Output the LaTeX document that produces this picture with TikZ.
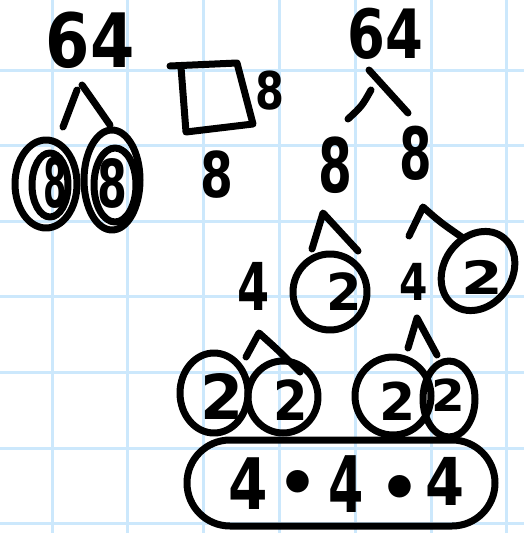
\documentclass[tikz,border=0pt]{standalone}
\usepackage{fontspec}
\setmainfont{DejaVu Sans}
\definecolor{gridblue}{RGB}{204,232,252}
\newcommand\fsz[1]{\fontsize{#1pt}{#1pt}\selectfont\bfseries}
\begin{document}
\begin{tikzpicture}[x=1pt,y=-1pt,
  ink/.style={line width=7pt,line cap=round,line join=round},
  dg/.style={inner sep=0pt,outer sep=0pt},
  gridline/.style={gridblue,line width=3pt}]
\useasboundingbox (0,0) rectangle (524,533);
\fill[white] (0,0) rectangle (524,533);
\foreach \i in {0,...,6}{
  \draw[gridline] ({52+75.8*\i},0) -- ({52+75.8*\i},533);
  \draw[gridline] (0,{70+75.6*\i}) -- (524,{70+75.6*\i});
}
% --- left tree ---
\node[dg,font=\fsz{75},xscale=0.85] (t1) at (90,40) {64};
\draw[ink] (63,127) -- (77,90);
\draw[ink] (82,85) .. controls (94,102) .. (110,125);
\draw[ink] (46,184) ellipse [x radius=31,y radius=44];
\draw[ink] (50,185) ellipse [x radius=18,y radius=32];
\draw[ink] (112,180) ellipse [x radius=28,y radius=50];
\draw[ink] (115,185) ellipse [x radius=21,y radius=37];
\node[dg,font=\fsz{68},xscale=0.5] (l1) at (55,183) {8};
\node[dg,font=\fsz{66},xscale=0.65] (l2) at (112,183) {8};
% --- square ---
\draw[ink] (170,66) -- (237,63) -- (253,124) -- (186,132) -- (181,67);
\node[dg,font=\fsz{52},xscale=0.8] (s1) at (270,91) {8};
\node[dg,font=\fsz{63},xscale=0.75] (s2) at (217,175) {8};
% --- right tree ---
\node[dg,font=\fsz{68},xscale=0.8] (t2) at (385,34) {64};
\draw[ink] (369,70) -- (408,113);
\draw[ink] (371,90) .. controls (362,106) .. (348,119);
\node[dg,font=\fsz{75},xscale=0.65] (r1) at (335,165) {8};
\node[dg,font=\fsz{72},xscale=0.65] (r2) at (416,153) {8};
\draw[ink] (312,249) -- (323,213) -- (358,251);
\draw[ink] (409,236) -- (423,207) .. controls (440,222) .. (463,238);
\node[dg,font=\fsz{66},xscale=0.7] (m1) at (254,286) {4};
\draw[ink] (330,292) ellipse [x radius=37,y radius=38];
\node[dg,font=\fsz{51}] (c1) at (344,292) {2};
\node[dg,font=\fsz{51},xscale=0.8] (m2) at (414,282) {4};
\draw[ink,rotate around={-35:(478,271)}] (478,271) ellipse [x radius=34,y radius=42];
\node[dg,font=\fsz{46},xscale=1.3] (c2) at (482,277) {2};
\draw[ink] (246,357) -- (259,333) .. controls (278,350) .. (300,372);
\draw[ink] (408,348) -- (417,318) -- (437,355);
\draw[ink] (214,393) ellipse [x radius=34,y radius=40];
\draw[ink] (283,397) ellipse [x radius=35,y radius=36];
\draw[ink] (393,396) ellipse [x radius=38,y radius=39];
\draw[ink] (449,399) ellipse [x radius=26,y radius=38];
\node[dg,font=\fsz{62}] (b1) at (222,396) {2};
\node[dg,font=\fsz{55},xscale=0.9] (b2) at (291,400) {2};
\node[dg,font=\fsz{52}] (b3) at (398,401) {2};
\node[dg,font=\fsz{44},xscale=1.1] (b4) at (448,395) {2};
% --- result oval ---
\draw[ink,rounded corners=43] (187,440) rectangle (495,526);
\node[dg,font=\fsz{71},xscale=0.8] (f1) at (248,484) {4};
\node[dg,font=\fsz{64}] (d1) at (298,488) {•};
\node[dg,font=\fsz{78},xscale=0.65] (f2) at (346,484) {4};
\node[dg,font=\fsz{64}] (d2) at (400,493) {•};
\node[dg,font=\fsz{66},xscale=0.85] (f3) at (445,481) {4};
\end{tikzpicture}
\end{document}
